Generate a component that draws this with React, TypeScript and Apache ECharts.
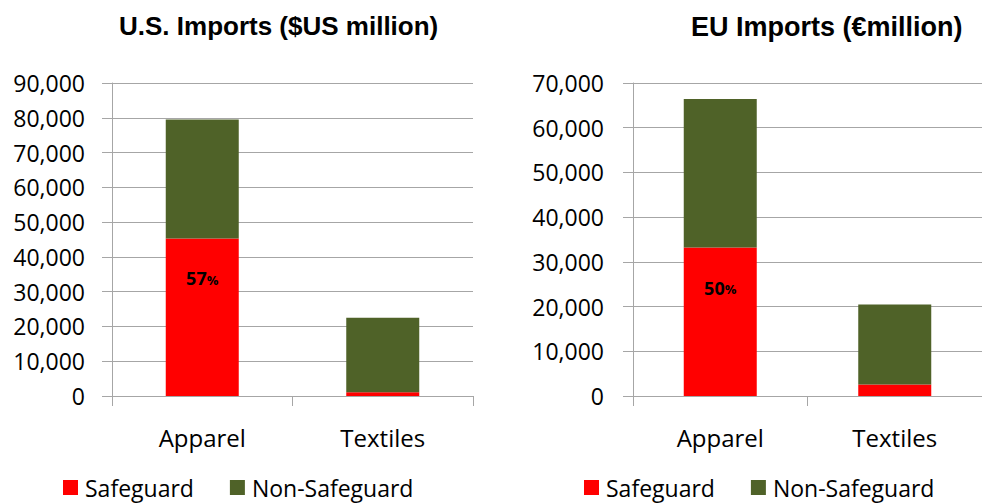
import React, { useEffect, useRef } from "react";
import * as echarts from "echarts";

const categories = ["Apparel", "Textiles"];
const usSafeguard = [45300, 1100];
const usNonSafeguard = [34200, 21400];
const euSafeguard = [33200, 2550];
const euNonSafeguard = [33200, 17900];
const usTicks = { min: 0, max: 90000, interval: 10000 };
const euTicks = { min: 0, max: 70000, interval: 10000 };
const titles = ["U.S. Imports ($US million)", "EU Imports (€million)"];
const seriesNames = ["Safeguard", "Non-Safeguard"];

const RED = "#ff0000";
const GREEN = "#4f6228";
const GRID = "#a6a6a6";
const FONT = "'Open Sans', sans-serif";

function pct(s: number[], n: number[], i: number) {
  return Math.round((s[i] / (s[i] + n[i])) * 100);
}

export default function App() {
  const ref = useRef<HTMLDivElement>(null);
  useEffect(() => {
    document.body.style.margin = "0";
    const chart = echarts.init(ref.current!, null, { renderer: "svg" });
    const yAxisBase = (t: { min: number; max: number; interval: number }, idx: number, margin: number) => ({
      type: "value",
      gridIndex: idx,
      min: t.min,
      max: t.max,
      interval: t.interval,
      axisLine: { show: true, lineStyle: { color: GRID, width: 1 } },
      axisTick: { show: true, length: 10, lineStyle: { color: GRID } },
      splitLine: { show: true, lineStyle: { color: GRID, width: 1 } },
      axisLabel: {
        margin,
        color: "#000",
        fontFamily: FONT,
        fontSize: 23,
        formatter: (v: number) => v.toLocaleString("en-US"),
      },
    });
    const xAxisBase = (idx: number) => ({
      type: "category",
      gridIndex: idx,
      data: categories,
      axisLine: { show: true, lineStyle: { color: GRID, width: 1 } },
      axisTick: { show: true, length: 10, alignWithLabel: false, lineStyle: { color: GRID } },
      axisLabel: { margin: 29, color: "#000", fontFamily: FONT, fontSize: 24, interval: 0 },
    });
    const labelFor = (s: number[], n: number[]) => ({
      show: true,
      position: "insideTop",
      distance: 31,
      formatter: (p: any) => `{n|${pct(s, n, p.dataIndex)}}{p|%}`,
      rich: {
        n: { fontFamily: FONT, fontWeight: "bold", fontSize: 18, color: "#000" },
        p: { fontFamily: FONT, fontWeight: "bold", fontSize: 13, color: "#000", padding: [3, 0, 0, 0] },
      },
    });
    const mk = (name: string, data: number[], color: string, xi: number, stack: string, label?: any) => ({
      name,
      type: "bar",
      xAxisIndex: xi,
      yAxisIndex: xi,
      stack,
      barWidth: 73,
      itemStyle: { color },
      data: data.map((v, i) => (label && i === 0 ? { value: v, label } : v)),
    });
    const legendBase = (left: number) => ({
      data: seriesNames,
      left,
      top: 476,
      padding: 0,
      icon: "rect",
      itemWidth: 15,
      itemHeight: 15,
      itemGap: 36,
      selectedMode: false,
      textStyle: { fontFamily: FONT, fontSize: 23, color: "#000", padding: [0, 0, 0, 2] },
    });
    const titleStyle = { fontFamily: "Arial, 'Liberation Sans', sans-serif", fontWeight: "bold", fontSize: 26, color: "#000" };
    chart.setOption({
      animation: false,
      backgroundColor: "#fff",
      title: [
        { text: titles[0], left: 114, top: 8, textStyle: titleStyle },
        { text: titles[1], left: 686, top: 8, textStyle: { ...titleStyle, fontSize: 27 } },
      ],
      legend: [legendBase(63), legendBase(584)],
      grid: [
        { left: 112, top: 83, width: 361, height: 313, containLabel: false },
        { left: 633, top: 83, width: 360, height: 313, containLabel: false },
      ],
      xAxis: [xAxisBase(0), xAxisBase(1)],
      yAxis: [yAxisBase(usTicks, 0, 27), yAxisBase(euTicks, 1, 29)],
      series: [
        mk(seriesNames[0], usSafeguard, RED, 0, "us", labelFor(usSafeguard, usNonSafeguard)),
        mk(seriesNames[1], usNonSafeguard, GREEN, 0, "us"),
        mk(seriesNames[0], euSafeguard, RED, 1, "eu", labelFor(euSafeguard, euNonSafeguard)),
        mk(seriesNames[1], euNonSafeguard, GREEN, 1, "eu"),
      ],
    });
    return () => chart.dispose();
  }, []);
  return <div ref={ref} style={{ width: 982, height: 504 }} />;
}
